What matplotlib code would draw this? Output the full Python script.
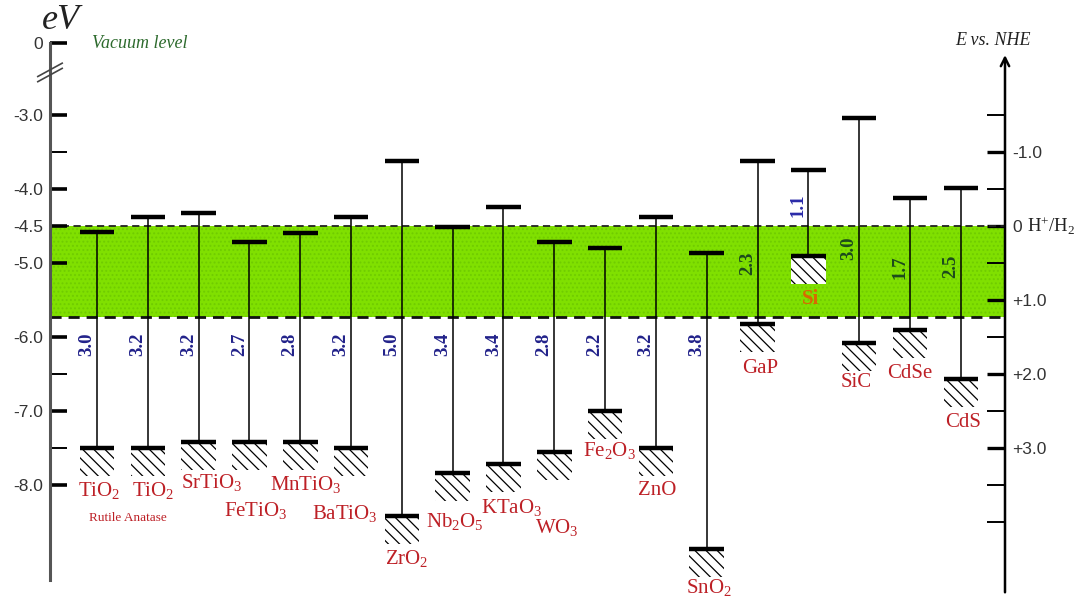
import matplotlib
matplotlib.use("Agg")
import matplotlib.pyplot as plt
from matplotlib.ticker import FixedLocator, FuncFormatter

plt.rcParams['font.family'] = ['Liberation Serif', 'DejaVu Serif']
plt.rcParams['mathtext.fontset'] = 'custom'
plt.rcParams['mathtext.rm'] = 'Liberation Serif'
plt.rcParams['mathtext.it'] = 'Liberation Serif:italic'
plt.rcParams['mathtext.bf'] = 'Liberation Serif:bold'
plt.rcParams['hatch.linewidth'] = 0.9

# --- data (energies in eV vs vacuum) ---
materials = ['TiO$_2$', 'TiO$_2$', 'SrTiO$_3$', 'FeTiO$_3$', 'MnTiO$_3$', 'BaTiO$_3$',
             'ZrO$_2$', 'Nb$_2$O$_5$', 'KTaO$_3$', 'WO$_3$', 'Fe$_2$O$_3$', 'ZnO',
             'SnO$_2$', 'GaP', 'Si', 'SiC', 'CdSe', 'CdS']
cb_edge = [-4.58, -4.38, -4.32, -4.71, -4.60, -4.38, -3.62, -4.51, -4.25, -4.71,
           -4.80, -4.38, -4.86, -3.62, -3.74, -3.04, -4.12, -3.99]
vb_edge = [-7.50, -7.50, -7.42, -7.42, -7.42, -7.50, -8.42, -7.84, -7.72, -7.55,
           -7.00, -7.50, -8.86, -5.82, -4.91, -6.08, -5.90, -6.57]
gap_text = ['3.0', '3.2', '3.2', '2.7', '2.8', '3.2', '5.0', '3.4', '3.4', '2.8',
            '2.2', '3.2', '3.8', '2.3', '1.1', '3.0', '1.7', '2.5']
water_top = -4.5      # H+/H2
water_bottom = -5.73  # O2/H2O

left_ticks = [-3.0, -4.0, -4.5, -5.0, -6.0, -7.0, -8.0]
left_minor = [-3.5, -6.5, -7.5]
nhe_ticks = [-1.0, 0.0, 1.0, 2.0, 3.0]
nhe_minor = [-1.5, -0.5, 0.5, 1.5, 2.5, 3.5, 4.0]

# --- layout ---
VAC_POS = -2.03   # where the broken axis shows the vacuum level (0)
label_drop = [0.58, 0.58, 0.55, 0.93, 0.58, 0.88, 0.58, 0.65, 0.58, 1.02,
              0.54, 0.58, 0.52, 0.60, 0.58, 0.54, 0.60, 0.58]
label_dx = [0.05, 0.1, 0.25, 0.12, 0.1, -0.12, 0.1, 0.05, 0.15, 0.05,
            0.08, 0.02, 0.05, 0.05, 0.05, -0.05, 0.0, 0.05]
gap_y = [-6.1] * 13 + [-5.0, -4.22, -4.8, -5.05, -5.05]
gap_color = ['#22228a'] * 13 + ['#1d4a1d', '#2a2aa8', '#1d4a1d', '#1d4a1d', '#1d4a1d']
label_color = ['#bd2026'] * 14 + ['#d86a00'] + ['#bd2026'] * 3

fig = plt.figure(figsize=(10.87, 6.04), dpi=100)
ax = fig.add_axes([50 / 1087, 1 - 592.3 / 604, 955 / 1087, (592.3 - 43.2) / 604])
ax.set_xlim(-0.925, 17.87)
ax.set_ylim(-9.45, VAC_POS)

xs = list(range(len(materials)))

# water splitting window
ax.axhspan(water_bottom, water_top, facecolor='#80e000', edgecolor='#70cc00',
           hatch='....', linewidth=0, zorder=0)
ax.hlines([water_top], -0.925, 17.87, colors='#222', linestyles=(0, (4, 2.5)), lw=1.3, zorder=1)
ax.hlines([water_bottom], -0.925, 17.87, colors='#111', linestyles=(0, (4, 2.5)), lw=2.0, zorder=1)

# band edges
ax.vlines(xs, vb_edge, cb_edge, colors='black', lw=1.1, zorder=3)
ax.bar(xs, -0.38, bottom=vb_edge, width=0.68, facecolor='white', edgecolor='black',
       hatch='\\\\\\', linewidth=0, zorder=3)
ax.hlines(cb_edge, [x - 0.34 for x in xs], [x + 0.34 for x in xs], colors='black', lw=3.2, zorder=4)
ax.hlines(vb_edge, [x - 0.34 for x in xs], [x + 0.34 for x in xs], colors='black', lw=3.2, zorder=4)

for x, g, gy, gc in zip(xs, gap_text, gap_y, gap_color):
    ax.text(x - 0.2, gy, g, rotation=90, ha='center', va='center', color=gc,
            fontsize=13.5, fontweight='bold', zorder=5)

for x, name, vb, d, dx, lc in zip(xs, materials, vb_edge, label_drop, label_dx, label_color):
    ax.text(x + dx, vb - d, name, ha='center', va='center', color=lc, fontsize=15,
            fontweight='bold' if name == 'Si' else 'normal', zorder=5)

ax.text(0.6, vb_edge[0] - 0.95, 'Rutile Anatase', ha='center', va='center',
        color='#bd2026', fontsize=9.5)

# left axis (eV vs vacuum, broken)
for s in ['top', 'bottom', 'right']:
    ax.spines[s].set_visible(False)
ax.spines['left'].set_bounds(-9.28, VAC_POS)
ax.spines['left'].set_color('#555')
ax.spines['left'].set_linewidth(2.2)
ax.set_xticks([])
ax.yaxis.set_major_locator(FixedLocator([VAC_POS] + left_ticks))
ax.yaxis.set_major_formatter(FuncFormatter(
    lambda v, p: '0' if abs(v - VAC_POS) < 1e-6 else f'{v:.1f}'))
ax.yaxis.set_minor_locator(FixedLocator(left_minor))
ax.tick_params(axis='y', which='major', direction='in', length=12, width=2.6,
               color='black', labelsize=12.5, labelcolor='#333', pad=5,
               labelfontfamily='Liberation Sans')
ax.tick_params(axis='y', which='minor', direction='in', length=12, width=1.4, color='black')

bx, by = -0.925, -2.46
for off in (0.0, 0.07):
    ax.plot([bx - 0.24, bx + 0.24], [by - 0.09 + off, by + 0.09 + off], color='#444',
            lw=1.2, clip_on=False, zorder=6)

ax.text(0.011, -1.73, 'eV', transform=ax.get_yaxis_transform(), ha='center', va='center',
        fontsize=26, style='italic', color='#222')
ax.text(-0.1, VAC_POS, 'Vacuum level', ha='left', va='center', fontsize=13,
        style='italic', color='#2d6a2d')

# right axis (E vs NHE)
sec = ax.secondary_yaxis('right', functions=(lambda e: -e - 4.5, lambda v: -v - 4.5))
sec.spines['right'].set_visible(False)
sec.yaxis.set_major_locator(FixedLocator(nhe_ticks))
sec.yaxis.set_minor_locator(FixedLocator(nhe_minor))
sec.yaxis.set_major_formatter(FuncFormatter(lambda v, p: '0' if v == 0 else f'{v:+.1f}'))
sec.tick_params(which='major', direction='in', length=13, width=2.4, color='black',
                labelsize=12.5, labelcolor='#333', pad=5, labelfontfamily='Liberation Sans')
sec.tick_params(which='minor', direction='in', length=13, width=1.4, color='black')

ax.annotate('', xy=(1, -2.19), xytext=(1, -9.45), xycoords=ax.get_yaxis_transform(),
            arrowprops=dict(arrowstyle='->,head_length=0.6,head_width=0.3', lw=1.8,
                            color='black', shrinkA=0, shrinkB=0))
ax.text(1 + 22 / 955, water_top, 'H$^{+}$/H$_2$', transform=ax.get_yaxis_transform(),
        ha='left', va='center', fontsize=13.5, color='#222')
ax.text(0.987, -2.0, 'E vs. NHE', transform=ax.get_yaxis_transform(), ha='center',
        va='center', fontsize=13, style='italic', color='#222')

fig.savefig('out.png', dpi=100, facecolor='white')
